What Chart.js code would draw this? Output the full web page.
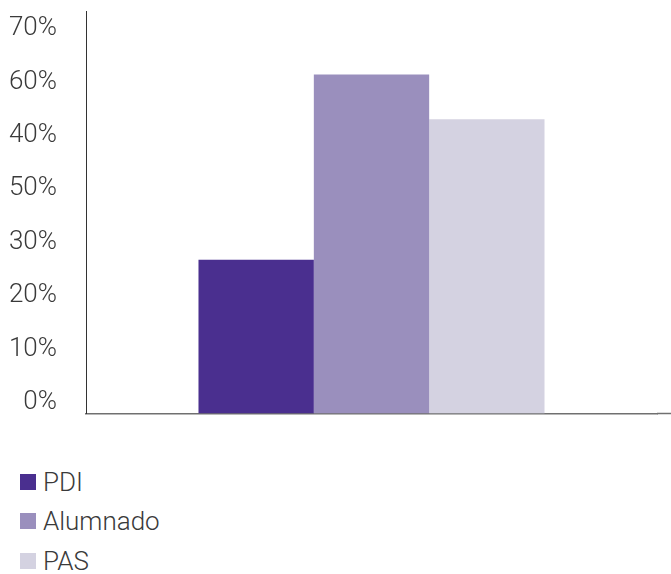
<!DOCTYPE html>
<html>
<head>
<meta charset="utf-8">
<script src="https://cdn.jsdelivr.net/npm/chart.js@4/dist/chart.umd.min.js"></script>
<style>
  body { margin: 0; background: #fff; font-family: Roboto, sans-serif; }
  #wrap { position: relative; width: 671px; height: 574px; }
  #c { position: absolute; left: 0; top: 0; }
  #legend { position: absolute; left: 20px; top: 462px; }
  .item { height: 39.5px; display: flex; align-items: center; font-weight: 300; font-size: 26px; color: #3a3a3a; }
  .sw { width: 16px; height: 16px; margin-right: 7px; }
</style>
</head>
<body>
<div id="wrap">
  <canvas id="c" width="671" height="440"></canvas>
  <div id="legend"></div>
</div>
<script>
const categories = [''];
const seriesNames = ['PDI', 'Alumnado', 'PAS'];
const seriesValues = [[28.8], [63.5], [55.1]];
const seriesColors = ['#4a2f8f', '#9a8fbd', '#d4d2e1'];
const tickValues = [0, 10, 20, 30, 40, 50, 60, 70];
const tickLabels = ['0%', '10%', '20%', '30%', '50%', '40%', '60%', '70%']; // as printed in the original

// x axis line runs on to the right edge of the canvas
const axisTail = {
  id: 'axisTail',
  afterDraw(chart) {
    const c = chart.ctx, a = chart.chartArea;
    c.save();
    c.strokeStyle = '#707070';
    c.lineWidth = 1.5;
    c.beginPath();
    c.moveTo(a.right, a.bottom);
    c.lineTo(chart.width, a.bottom);
    c.stroke();
    c.restore();
  }
};

const ctx = document.getElementById('c').getContext('2d');
const chart = new Chart(ctx, {
  type: 'bar',
  data: {
    labels: categories,
    datasets: seriesNames.map((name, i) => ({
      label: name,
      data: seriesValues[i],
      backgroundColor: seriesColors[i],
      borderWidth: 0,
      categoryPercentage: 0.606,
      barPercentage: 1
    }))
  },
  options: {
    responsive: false,
    animation: false,
    layout: { padding: { top: 11, right: 14, bottom: 26.5, left: 0 } },
    plugins: { legend: { display: false }, tooltip: { enabled: false } },
    scales: {
      x: {
        grid: { display: false, drawTicks: false },
        border: { display: true, color: '#707070', width: 1.5 },
        ticks: { display: false },
        afterFit: s => { s.height = 0; s.paddingLeft = 0; s.paddingRight = 0; }
      },
      y: {
        min: 0,
        max: 75.4,
        grid: { display: false, drawTicks: false },
        border: { display: true, color: '#333', width: 1 },
        afterBuildTicks: s => { s.ticks = tickValues.map(v => ({ value: v })); },
        afterFit: s => { s.width = 86; s.paddingTop = 0; s.paddingBottom = 0; },
        ticks: {
          padding: 29,
          labelOffset: -11,
          color: '#3a3a3a',
          font: { family: 'Roboto', size: 26, weight: '300' },
          callback: v => tickLabels[tickValues.indexOf(v)]
        }
      }
    }
  },
  plugins: [axisTail]
});

// vertical legend under the chart
const legend = document.getElementById('legend');
chart.data.datasets.forEach(ds => {
  const row = document.createElement('div');
  row.className = 'item';
  const sw = document.createElement('span');
  sw.className = 'sw';
  sw.style.background = ds.backgroundColor;
  row.appendChild(sw);
  row.appendChild(document.createTextNode(ds.label));
  legend.appendChild(row);
});
</script>
</body>
</html>
